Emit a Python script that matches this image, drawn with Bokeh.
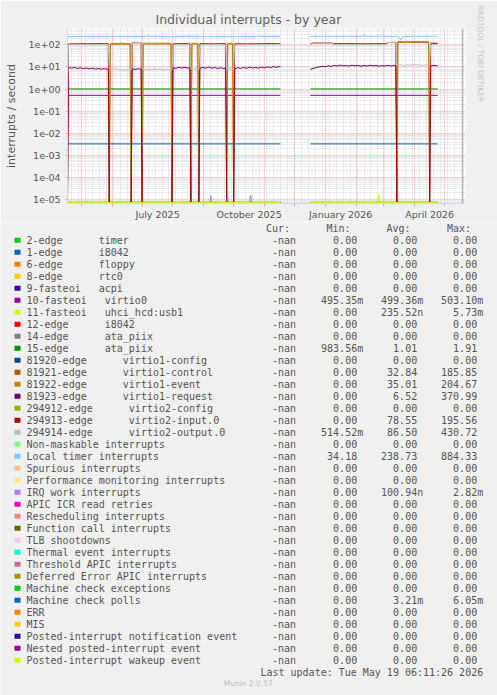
import numpy as np
import pandas as pd
from bokeh.plotting import figure
from bokeh.models import Range1d, FixedTicker, Span, Title
from bokeh.embed import file_html
from bokeh.resources import INLINE
from bokeh.core.properties import value

NAN = float("nan")

# ---------------- chart settings / data ----------------
TITLE = "Individual interrupts - by year"
Y_LABEL = "interrupts / second"
X_START = "2025-04-17"
X_END = "2026-05-22"
DATA_ORIGIN = "2025-04-17"          # day 0 of the day offsets below
LAST_UPDATE = "2026-05-19 06:11:26"
VERSION = "Munin 2.0.57"
WATERMARK = "RRDTOOL / TOBI OETIKER"
Y_MIN, Y_MAX = 6.6e-6, 550.0

x_label_months = ["2025-07", "2025-10", "2026-01", "2026-04"]
x_labels = ["July 2025", "October 2025", "January 2026", "April 2026"]
y_labels = ["1e-05", "1e-04", "1e-03", "1e-02", "1e-01", "1e+00", "1e+01", "1e+02"]
headers = ["Cur:", "Min:", "Avg:", "Max:"]

series_names = [
    "2-edge      timer", "1-edge      i8042", "6-edge      floppy", "8-edge      rtc0",
    "9-fasteoi   acpi", "10-fasteoi   virtio0", "11-fasteoi   uhci_hcd:usb1",
    "12-edge      i8042", "14-edge      ata_piix", "15-edge      ata_piix",
    "81920-edge      virtio1-config", "81921-edge      virtio1-control",
    "81922-edge      virtio1-event", "81923-edge      virtio1-request",
    "294912-edge      virtio2-config", "294913-edge      virtio2-input.0",
    "294914-edge      virtio2-output.0", "Non-maskable interrupts",
    "Local timer interrupts", "Spurious interrupts",
    "Performance monitoring interrupts", "IRQ work interrupts",
    "APIC ICR read retries", "Rescheduling interrupts", "Function call interrupts",
    "TLB shootdowns", "Thermal event interrupts", "Threshold APIC interrupts",
    "Deferred Error APIC interrupts", "Machine check exceptions",
    "Machine check polls", "ERR", "MIS", "Posted-interrupt notification event",
    "Nested posted-interrupt event", "Posted-interrupt wakeup event",
]
series_colors = [
    "#00CC00", "#0066B3", "#FF8000", "#FFCC00", "#330099", "#990099", "#CCFF00",
    "#FF0000", "#808080", "#008F00", "#00487D", "#B35A00", "#B38F00", "#6B006B",
    "#8FB300", "#B30000", "#BEBEBE", "#80FF80", "#80C9FF", "#FFC080", "#FFE680",
    "#AA80FF", "#EE00CC", "#FF8080", "#666600", "#FFBFFF", "#00FFCC", "#CC6699",
    "#999900", "#00CC00", "#0066B3", "#FF8000", "#FFCC00", "#330099", "#990099",
    "#CCFF00",
]
Z = "0.00"
cur_vals = ["-nan"] * 36
min_vals = [Z, Z, Z, Z, Z, "495.35m", Z, Z, Z, "983.56m", Z, Z, Z, Z, Z, Z,
            "514.52m", Z, "34.18", Z, Z, Z, Z, Z, Z, Z, Z, Z, Z, Z, Z, Z, Z, Z, Z, Z]
avg_vals = [Z, Z, Z, Z, Z, "499.36m", "235.52n", Z, Z, "1.01", Z, "32.84", "35.01",
            "6.52", Z, "78.55", "86.50", Z, "238.73", Z, Z, "100.94n", Z, Z, Z, Z,
            Z, Z, Z, Z, "3.21m", Z, Z, Z, Z, Z]
max_vals = [Z, Z, Z, Z, Z, "503.10m", "5.73m", Z, Z, "1.91", Z, "185.85", "204.67",
            "370.99", Z, "195.56", "430.72", Z, "884.33", Z, Z, "2.82m", Z, Z, Z, Z,
            Z, Z, Z, Z, "6.05m", Z, Z, Z, Z, Z]

# day offsets (from DATA_ORIGIN) and values, per series
period_days = [0, 214, NAN, 244, 372]
zero_vals = [0, 0, NAN, 0, 0]
virtio0_vals = [0.52, 0.52, NAN, 0.52, 0.52]
ata15_vals = [1.01, 1.01, NAN, 1.01, 1.01]
mcpolls_vals = [0.0033, 0.0033, NAN, 0.0033, 0.0033]

red_days = [0, 1, 10, 20, 30, 41, 42, 64, 65, 74, 75, 105, 106, 115, 123, 124, 132,
            133, 145, 159, 160, 167, 168, 180, 195, 205, 214, NAN, 244, 245, 246, 266,
            267, 280, 295, 310, 321, 322, 330, 331, 364, 365, 372]
red_vals = [0, 110, 112, 111, 113, 112, 0, 0, 124, 126, 0, 0, 111, 113, 112, 0, 0,
            112, 111, 113, 0, 0, 112, 110, 112, 113, 111, NAN, 112, 112, 122, 124,
            112, 113, 111, 112, 112, 128, 130, 0, 0, 112, 113]

gray_days = [0, 1, 41, 42, 43, 46, 49, 52, 55, 58, 61, 63, 64, 65, 74, 75, 76, 79, 82,
             85, 88, 91, 94, 97, 100, 103, 104, 105, 106, 123, 124, 125, 128, 131, 132,
             133, 159, 160, 161, 164, 166, 167, 168, 214, NAN, 244, 245, 246, 266, 267,
             321, 322, 330, 331, 332, 335, 338, 341, 344, 347, 350, 353, 356, 359, 362,
             363, 364, 365, 372]
gray_vals = [0.6, 100, 101, 8.0, 8.3, 7.6, 8.1, 7.4, 7.9, 7.2, 7.8, 7.5, 7.5, 124, 126,
             8.0, 7.9, 7.3, 8.0, 7.5, 8.2, 7.6, 8.1, 7.4, 7.9, 7.5, 7.8, 7.8, 100, 101,
             8.0, 7.8, 8.3, 7.6, 7.6, 100, 101, 8.0, 7.7, 8.2, 7.9, 7.9, 100, 102, NAN,
             100, 100, 122, 124, 100, 101, 128, 130, 12.0, 11.8, 12.9, 11.6, 12.6,
             11.9, 13.1, 12.2, 12.8, 11.7, 12.5, 12.0, 12.3, 12.0, 128, 130]

gold_days = [0, 42, 43, 47, 50, 53, 54, 55, 58, 63, 64, 75, 76, 84, 92, 100, 104, 105,
             124, 125, 131, 132, 160, 161, 166, 167, 214, NAN, 244, 331, 332, 336, 340,
             341, 342, 345, 350, 355, 356, 357, 360, 363, 364, 372]
gold_vals = [0, 0, 114, 116, 115, 117, 127, 117, 116, 115, 0, 0, 118, 119, 118, 120,
             118, 0, 0, 118, 119, 0, 0, 118, 118, 0, 0, NAN, 0, 0, 140, 141, 140, 152,
             141, 140, 142, 140, 150, 141, 140, 141, 0, 0]

orange_days = [0, 42, 43, 63, 64, 75, 76, 104, 105, 124, 125, 131, 132, 160, 161, 166,
               167, 214, NAN, 244, 331, 332, 363, 364, 372]
orange_vals = [0, 0, 108, 108, 0, 0, 110, 110, 0, 0, 110, 110, 0, 0, 110, 110, 0, 0,
               NAN, 0, 0, 130, 130, 0, 0]

purple_days = [0, 1, 4, 7, 10, 13, 16, 19, 22, 25, 28, 31, 34, 37, 40, 41, 42, 64, 65,
               68, 71, 74, 75, 105, 106, 109, 112, 115, 118, 121, 123, 124, 132, 133,
               136, 139, 142, 145, 148, 151, 154, 157, 159, 160, 167, 168, 171, 174,
               177, 180, 183, 186, 189, 192, 195, 198, 201, 204, 207, 210, 213, 214,
               NAN, 244, 247, 250, 253, 256, 259, 262, 265, 268, 271, 274, 277, 280,
               283, 286, 289, 292, 295, 298, 301, 304, 307, 310, 313, 316, 319, 322,
               325, 328, 330, 331, 364, 365, 368, 371, 372]
purple_vals = [0, 9.6, 8.8, 9.4, 8.6, 9.1, 8.4, 8.9, 8.2, 8.7, 8.0, 8.5, 7.9, 8.4, 7.8,
               8.0, 0, 0, 8.2, 7.6, 8.4, 7.8, 0, 0, 9.2, 8.5, 9.8, 8.9, 9.6, 8.8, 9.3,
               0, 0, 8.6, 9.5, 8.7, 9.9, 8.8, 9.4, 8.5, 9.2, 8.4, 9.0, 0, 0, 8.1, 9.3,
               8.5, 9.6, 8.7, 9.8, 8.9, 9.5, 8.8, 9.9, 9.1, 10.2, 9.3, 10.4, 9.6, 10.6,
               10.3, NAN, 7.8, 8.6, 9.4, 10.0, 10.8, 10.2, 11.3, 10.6, 11.8, 11.0, 12.1,
               11.2, 11.6, 10.9, 12.0, 11.1, 11.7, 10.8, 11.5, 11.0, 11.9, 11.2, 11.6,
               10.9, 11.4, 11.0, 11.8, 11.1, 11.6, 11.2, 0, 0, 11.0, 11.8, 11.2, 11.5]

ltimer_days = [0, 20, 40, 60, 78, 80, 82, 100, 120, 140, 160, 190, 192, 194, 214, NAN,
               244, 260, 280, 296, 298, 300, 313, 315, 317, 330, 333, 335, 337, 350, 372]
ltimer_vals = [236, 238, 237, 239, 238, 262, 240, 237, 239, 236, 238, 237, 255, 238,
               240, NAN, 241, 243, 242, 244, 262, 243, 244, 258, 243, 242, 240, 160,
               238, 246, 244]

irq_days = [0, 143, 144, 145, 160, 161, 162, 183, 184, 185, 214, NAN, 244, 372]
irq_vals = [0, 0, 1.5e-5, 0, 0, 1.4e-5, 0, 0, 1.6e-5, 0, 0, NAN, 0, 0]

uhci_days = [0, 41, 42, 43, 74, 75, 76, 183, 184, 185, 214, NAN, 244, 312, 313, 314, 372]
uhci_vals = [0, 0, 2.6e-5, 0, 0, 2.4e-5, 0, 0, 1.5e-5, 0, 0, NAN, 0, 0, 1.6e-5, 0, 0]

plot_data = {
    5: (period_days, virtio0_vals),
    6: (uhci_days, uhci_vals),
    9: (period_days, ata15_vals),
    11: (orange_days, orange_vals),
    12: (gold_days, gold_vals),
    13: (purple_days, purple_vals),
    15: (red_days, red_vals),
    16: (gray_days, gray_vals),
    18: (ltimer_days, ltimer_vals),
    21: (irq_days, irq_vals),
    30: (period_days, mcpolls_vals),
}

# ---------------- layout (canvas pixels, top-left origin) ----------------
W, H = 497, 695
CHART_H = 222                             # height of the upper (chart) part
FL, FR, FT, FB = 67, 467, 28, 203        # plot frame edges

def ms(ts):
    return int(pd.Timestamp(ts).value // 10**6)

DAY_MS = 86400000.0
X0_MS = ms(DATA_ORIGIN)
FLOOR = Y_MIN * 1.11           # non-positive values sit on the bottom of the log axis

FONT = "DejaVu Sans"
MONO = "DejaVu Sans Mono"
TXT = "#555555"
BG = "#F0F0F0"
AXIS_C = "#CFD6F8"

month_starts = [ms(t) for t in pd.date_range("2025-05-01", "2026-05-01", freq="MS")]
mondays = [ms(t) for t in pd.date_range("2025-04-21", "2026-05-18", freq="W-MON")]
label_ticks = []
for m in x_label_months:
    a = pd.Timestamp(m + "-01")
    b = a + pd.offsets.MonthBegin(1)
    label_ticks.append(ms(a + (b - a) / 2))
y_ticks = [float(l) for l in y_labels]
y_minor = [mm * 10.0 ** k for k in range(-6, 3) for mm in range(2, 10)]

# ---------------- chart ----------------
p = figure(width=W, height=CHART_H, title=TITLE,
           x_axis_type="datetime", y_axis_type="log",
           x_range=Range1d(ms(X_START), ms(X_END)), y_range=Range1d(Y_MIN, Y_MAX),
           output_backend="svg", toolbar_location=None,
           min_border_left=FL, min_border_right=W - FR, min_border_top=FT,
           min_border_bottom=CHART_H - FB,
           background_fill_color="white", border_fill_color=BG, outline_line_color=None)

p.title.align = "left"
p.title.offset = 155 - FL
p.title.standoff = 3
p.title.text_font = FONT
p.title.text_font_size = "12.5px"
p.title.text_font_style = "normal"
p.title.text_color = "#606060"
p.title.vertical_align = "bottom"

p.add_layout(Title(text=WATERMARK, align="left", offset=5 - FT, standoff=21,
                   text_font=FONT, text_font_size="7.5px", text_font_style="normal",
                   text_color="#c4c4c4"), "right")

xa = p.xaxis[0]
xa.ticker = FixedTicker(ticks=label_ticks, minor_ticks=month_starts)
xa.major_label_overrides = {int(t): l for t, l in zip(label_ticks, x_labels)}
xa.major_tick_out = 0
xa.major_tick_in = 0
xa.minor_tick_out = 3
xa.minor_tick_in = 0
xa.minor_tick_line_color = "#e4a8a8"
xa.axis_line_color = AXIS_C
xa.major_label_text_font = FONT
xa.major_label_text_font_size = "9.5px"
xa.major_label_text_color = TXT
xa.major_label_standoff = 2

ya = p.yaxis[0]
ya.ticker = FixedTicker(ticks=y_ticks, minor_ticks=y_minor)
ya.major_label_overrides = {t: l for t, l in zip(y_ticks, y_labels)}
ya.major_tick_out = 2
ya.major_tick_in = 0
ya.minor_tick_out = 0
ya.minor_tick_in = 0
ya.major_tick_line_color = "#e4a8a8"
ya.axis_line_color = AXIS_C
ya.major_label_text_font = FONT
ya.major_label_text_font_size = "9.5px"
ya.major_label_text_color = TXT
ya.major_label_standoff = 5
ya.axis_label = Y_LABEL
ya.axis_label_text_font = FONT
ya.axis_label_text_font_size = "11px"
ya.axis_label_text_font_style = "normal"
ya.axis_label_text_color = TXT
ya.axis_label_standoff = 8

for g, tk, mn in ((p.xgrid[0], month_starts, mondays), (p.ygrid[0], y_ticks, y_minor)):
    g.ticker = FixedTicker(ticks=tk, minor_ticks=mn)
    g.grid_line_color = "#f0a0a0"
    g.grid_line_dash = "1 1"
    g.minor_grid_line_color = "#d8d8d8"
    g.minor_grid_line_dash = "1 1"

for i in range(len(series_names)):
    days, vals = plot_data.get(i, (period_days, zero_vals))
    xs = X0_MS + np.asarray(days, dtype=float) * DAY_MS
    ys = np.asarray(vals, dtype=float)
    ys = np.where(ys <= 0, FLOOR, ys)
    p.line(xs, ys, line_color=series_colors[i], line_width=1)

p.add_layout(Span(location=ms(LAST_UPDATE), dimension="height",
                  line_color="#a0a0a0", line_width=1))

# ---------------- legend (lower part) ----------------
NB = "\u00a0"
ROW0, ROW_H = 239.7, 12.0
row_y = [ROW0 + ROW_H * k for k in range(len(series_names))]

q = figure(width=W, height=H - CHART_H, title=None,
           x_range=Range1d(0, W), y_range=Range1d(H, CHART_H),
           x_axis_location=None, y_axis_location=None,
           output_backend="svg", toolbar_location=None, min_border=0,
           background_fill_color=BG, border_fill_color=BG, outline_line_color=None)
q.grid.visible = False

def with_unit(s):
    return s if s[-1].isalpha() else s + NB

def texts(xs, ys, labels, align, font=MONO, size="10px", color=TXT):
    q.text(x=xs, y=ys, text=labels, text_font=value(font), text_font_size=size,
           text_color=color, text_baseline="middle", text_align=align)

n = len(series_names)
q.rect(x=17, y=row_y, width=6, height=5, fill_color=series_colors, line_color=None)
texts([26] * n, row_y, [s.replace(" ", NB) for s in series_names], "left")
texts([295.5] * n, row_y, cur_vals, "right")
texts([362.7] * n, row_y, [with_unit(v) for v in min_vals], "right")
texts([422.7] * n, row_y, [with_unit(v) for v in avg_vals], "right")
texts([482.7] * n, row_y, [with_unit(v) for v in max_vals], "right")
texts([289.5, 350.0, 410.0, 470.5], [228.3] * 4, headers, "right")

upd = "Last update: " + pd.Timestamp(LAST_UPDATE).strftime("%a %b %d %H:%M:%S %Y")
texts([482.7], [671.7], [upd.replace(" ", NB)], "right")
texts([247.7], [683.3], [VERSION], "center", font=FONT, size="7.5px", color="#bdbdbd")

open("out.html", "w").write(file_html([p, q], INLINE))
